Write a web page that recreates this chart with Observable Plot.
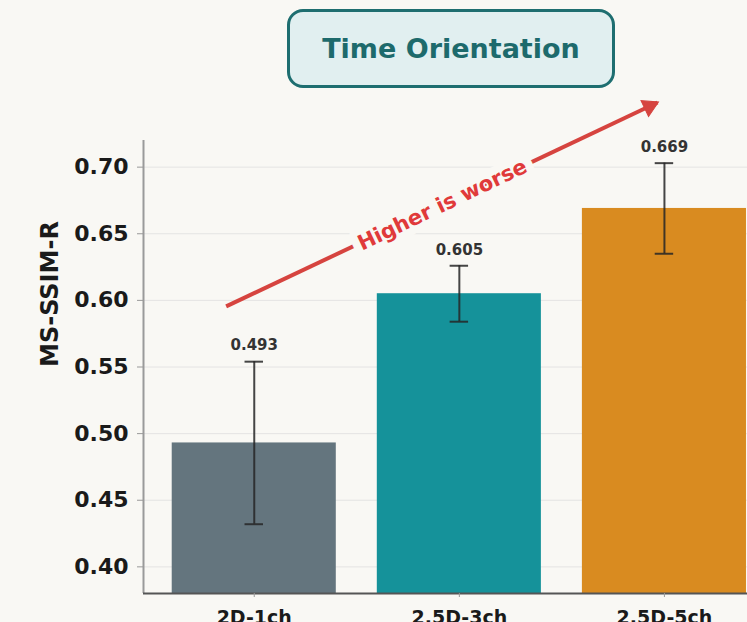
<!DOCTYPE html>
<html>
<head>
<meta charset="utf-8">
<script src="https://cdn.jsdelivr.net/npm/d3@7"></script>
<script src="https://cdn.jsdelivr.net/npm/@observablehq/plot@0.6"></script>
<style>
  html, body { margin: 0; padding: 0; background: #f9f8f4; }
  #wrap { position: relative; width: 747px; height: 622px; overflow: hidden; background: #f9f8f4; font-family: "DejaVu Sans", sans-serif; }
  #title {
    position: absolute; left: 287px; top: 9px; width: 328px; height: 79px;
    box-sizing: border-box; border: 3.5px solid #1e6e70; border-radius: 16px;
    background: #e1eff0; color: #1d6a6c; font-weight: bold; font-size: 27px;
    display: flex; align-items: center; justify-content: center;
  }
  #chart { position: absolute; left: 0; top: 0; }
</style>
</head>
<body>
<div id="wrap">
  <div id="chart"></div>
  <div id="title">Time Orientation</div>
</div>
<script>
const categories = ["2D-1ch", "2.5D-3ch", "2.5D-5ch"];
const means = [0.493, 0.605, 0.669];
const errors = [0.061, 0.021, 0.034];
const barColors = ["#64757e", "#15929a", "#d98b20"];
const yTicks = [0.40, 0.45, 0.50, 0.55, 0.60, 0.65, 0.70];
const yDomain = [0.38, 0.72];
const xDomain = [-0.54, 2.405];
const yLabel = "MS-SSIM-R";
const trendArrow = [{x1: -0.137, y1: 0.5955, x2: 1.966, y2: 0.7485}];
const trendLabel = [{x: 0.917, y: 0.6716, text: "Higher is worse"}];
const trendAngle = -25.5;

const data = categories.map((c, i) => ({i, cat: c, mean: means[i], err: errors[i], color: barColors[i]}));
const bg = "#f9f8f4";
const red = "#d6443f";
const back = 9, rad = trendAngle * Math.PI / 180;

const chart = Plot.plot({
  width: 747, height: 622,
  marginTop: 140, marginBottom: 29, marginLeft: 143, marginRight: 0,
  style: {background: "transparent", fontFamily: "DejaVu Sans, sans-serif", color: "#1a1a1a", overflow: "visible"},
  x: {domain: xDomain, axis: null},
  y: {domain: yDomain, axis: null},
  marks: [
    Plot.gridY(yTicks, {stroke: "#dcdcdc", strokeOpacity: 0.7, strokeWidth: 1}),
    Plot.rect(data, {x1: d => d.i - 0.4, x2: d => d.i + 0.4, y1: () => yDomain[0], y2: "mean", fill: "color"}),
    Plot.ruleX(data, {x: "i", y1: d => d.mean - d.err, y2: d => d.mean + d.err, stroke: "#262626", strokeWidth: 2, strokeOpacity: 0.85}),
    Plot.ruleY(data, {y: d => d.mean + d.err, x1: d => d.i - 0.045, x2: d => d.i + 0.045, stroke: "#262626", strokeWidth: 2, strokeOpacity: 0.85}),
    Plot.ruleY(data, {y: d => d.mean - d.err, x1: d => d.i - 0.045, x2: d => d.i + 0.045, stroke: "#262626", strokeWidth: 2, strokeOpacity: 0.85}),
    Plot.text(data, {x: "i", y: d => d.mean + d.err, text: d => d.mean.toFixed(3), dy: -16, fontSize: 15, fontWeight: "bold", fill: "#333"}),
    Plot.ruleX([xDomain[0]], {stroke: "#9a9a9a", strokeWidth: 2}),
    Plot.ruleY([yDomain[0]], {stroke: "#555", strokeWidth: 2}),
    Plot.axisY(yTicks, {tickFormat: d => d.toFixed(2), fontSize: 22, fontWeight: "bold", tickSize: 6, tickPadding: 9, stroke: "#999", label: null}),
    Plot.axisX([0, 1, 2], {tickFormat: i => categories[i], fontSize: 19, fontWeight: "bold", tickSize: 4, tickPadding: 13, stroke: "#999", label: null}),
    Plot.text([yLabel], {frameAnchor: "left", rotate: -90, dx: -93, fontSize: 24, fontWeight: "bold", fill: "#1a1a1a"}),
    Plot.link(trendArrow, {x1: "x1", y1: "y1", x2: "x2", y2: "y2", stroke: red, strokeWidth: 4}),
    Plot.dot(trendArrow, {x: "x2", y: "y2", symbol: "triangle", r: 6.5, fill: red, stroke: red, strokeWidth: 1, rotate: 90 + trendAngle, dx: -back * Math.cos(rad), dy: -back * Math.sin(rad)}),
    Plot.text(trendLabel, {x: "x", y: "y", text: "text", rotate: trendAngle, fontSize: 21, fontWeight: "bold", fill: "#e03a3a", stroke: bg, strokeWidth: 16})
  ]
});
document.getElementById("chart").appendChild(chart);
</script>
</body>
</html>
